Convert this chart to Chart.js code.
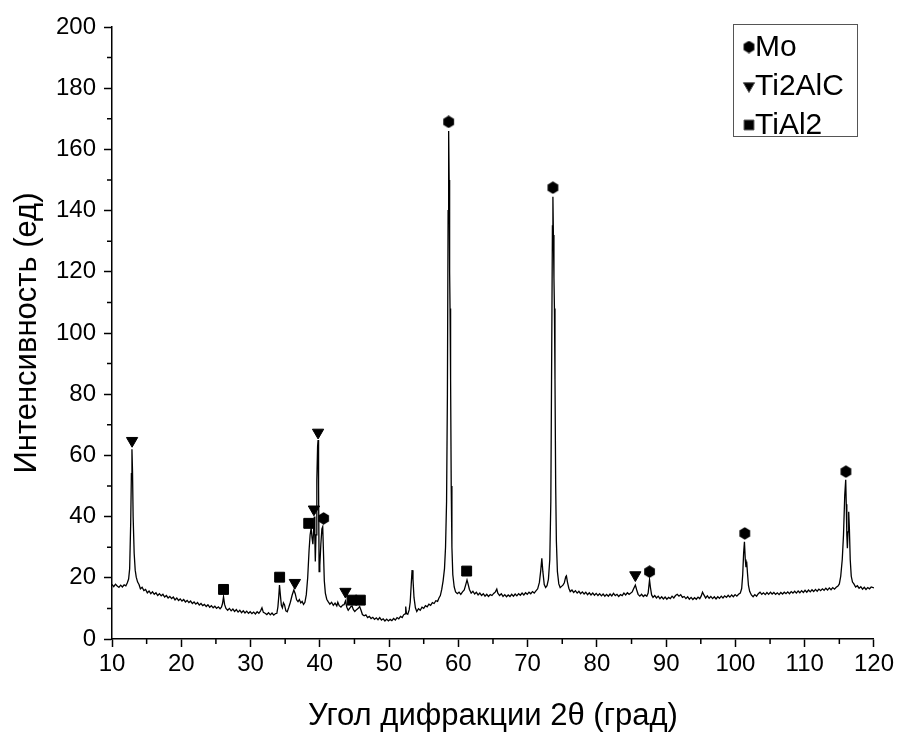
<!DOCTYPE html>
<html><head><meta charset="utf-8">
<script src="https://cdn.jsdelivr.net/npm/chart.js@4/dist/chart.umd.min.js"></script>
<style>html,body{margin:0;padding:0;background:#fff}canvas{display:block}</style>
</head><body><canvas id="c" width="897" height="736"></canvas>
<script>
// ---- data ----
const twoTheta = [
10.0,10.25,10.5,10.75,11.0,11.25,11.5,11.75,12.0,12.2,
12.4,12.55,12.7,12.8,12.88,12.96,13.05,13.2,13.35,13.5,
13.7,13.9,14.1,14.35,14.6,14.85,15.1,15.35,15.6,15.85,
16.1,16.35,16.6,16.85,17.1,17.35,17.6,17.85,18.1,18.35,
18.6,18.85,19.1,19.35,19.6,19.85,20.1,20.35,20.6,20.85,
21.1,21.35,21.6,21.85,22.1,22.35,22.6,22.85,23.1,23.35,
23.6,23.85,24.1,24.35,24.6,24.85,25.1,25.35,25.6,25.8,
25.95,26.1,26.25,26.45,26.7,26.95,27.2,27.45,27.7,27.95,
28.2,28.45,28.7,28.95,29.2,29.45,29.7,29.95,30.2,30.45,
30.7,30.95,31.2,31.45,31.65,31.85,32.1,32.35,32.6,32.85,
33.1,33.35,33.6,33.8,33.95,34.08,34.18,34.3,34.45,34.6,
34.75,34.9,35.1,35.3,35.5,35.75,36.0,36.25,36.45,36.65,
36.85,37.05,37.25,37.45,37.65,37.85,38.05,38.25,38.45,38.6,
38.75,38.88,39.0,39.12,39.2,39.28,39.35,39.45,39.57,39.68,
39.75,39.82,39.9,40.0,40.15,40.3,40.42,40.52,40.65,40.8,
41.0,41.2,41.45,41.7,41.95,42.2,42.45,42.6,42.8,43.05,
43.3,43.5,43.7,43.9,44.1,44.3,44.5,44.65,44.85,45.05,
45.3,45.55,45.75,45.95,46.15,46.4,46.65,46.9,47.15,47.4,
47.65,47.9,48.15,48.4,48.65,48.9,49.15,49.4,49.65,49.9,
50.15,50.4,50.65,50.9,51.15,51.4,51.65,51.9,52.1,52.3,
52.4,52.5,52.7,52.9,53.05,53.2,53.32,53.45,53.6,53.8,
54.0,54.25,54.5,54.75,55.0,55.25,55.5,55.75,56.0,56.25,
56.5,56.75,57.0,57.2,57.4,57.6,57.8,58.0,58.15,58.3,
58.42,58.52,58.6,58.67,58.74,58.8,58.88,58.97,59.07,59.2,
59.4,59.6,59.85,60.1,60.35,60.6,60.85,61.05,61.25,61.4,
61.6,61.85,62.1,62.35,62.6,62.85,63.1,63.35,63.6,63.85,
64.1,64.35,64.6,64.85,65.1,65.35,65.55,65.7,65.95,66.2,
66.45,66.7,66.95,67.2,67.45,67.7,67.95,68.2,68.45,68.7,
68.95,69.2,69.45,69.7,69.95,70.2,70.45,70.7,70.95,71.2,
71.45,71.7,71.9,72.05,72.2,72.4,72.6,72.8,73.0,73.2,
73.35,73.48,73.58,73.65,73.72,73.8,73.87,73.95,74.05,74.15,
74.3,74.5,74.7,74.9,75.1,75.3,75.5,75.6,75.75,75.95,
76.15,76.4,76.65,76.9,77.15,77.4,77.65,77.9,78.15,78.4,
78.65,78.9,79.15,79.4,79.65,79.9,80.15,80.4,80.65,80.9,
81.15,81.4,81.65,81.9,82.15,82.4,82.65,82.9,83.15,83.4,
83.65,83.9,84.15,84.4,84.65,84.9,85.1,85.3,85.55,85.75,
85.95,86.2,86.45,86.7,86.95,87.2,87.4,87.6,87.72,87.9,
88.1,88.35,88.6,88.85,89.1,89.35,89.6,89.85,90.1,90.35,
90.6,90.85,91.1,91.35,91.6,91.85,92.1,92.35,92.6,92.85,
93.1,93.35,93.6,93.85,94.1,94.35,94.6,94.85,95.05,95.25,
95.45,95.7,95.95,96.2,96.45,96.7,96.95,97.2,97.45,97.7,
97.95,98.2,98.45,98.7,98.95,99.2,99.45,99.7,99.95,100.2,
100.45,100.7,100.9,101.05,101.18,101.3,101.42,101.52,101.62,101.74,
101.88,102.05,102.3,102.55,102.8,103.05,103.3,103.55,103.8,104.05,
104.3,104.55,104.8,105.05,105.3,105.55,105.8,106.05,106.3,106.55,
106.8,107.05,107.3,107.55,107.8,108.05,108.3,108.55,108.8,109.05,
109.3,109.55,109.8,110.05,110.3,110.55,110.8,111.05,111.3,111.55,
111.8,112.05,112.3,112.55,112.8,113.05,113.3,113.55,113.8,114.05,
114.3,114.55,114.8,115.0,115.2,115.42,115.6,115.78,115.92,116.0,
116.08,116.16,116.25,116.35,116.45,116.57,116.72,116.9,117.1,117.35,
117.6,117.85,118.1,118.35,118.6,118.85,119.1,119.35,119.6,120.0
];
const intensity = [
17.8,17.1,17.9,17.3,16.9,17.6,17.0,17.7,17.4,18.3,
19.6,23,38,54,62,55,40,28,22.5,20.2,
18.6,17.8,16.4,16.9,15.8,16.2,15.1,15.7,14.8,15.4,
14.6,15.1,14.2,14.8,14.1,14.6,13.7,14.2,13.4,13.9,
13.2,13.7,12.8,13.4,12.6,13.1,12.4,12.9,12.1,12.6,
11.9,12.4,11.6,12.1,11.4,11.9,11.1,11.6,10.9,11.3,
10.6,11.2,10.4,10.9,10.2,10.7,10.0,10.5,9.9,10.4,
11.5,13.8,11.3,10.0,9.4,10.0,9.2,9.8,9.0,9.6,
8.8,9.4,8.6,9.2,8.5,9.1,8.4,8.9,8.3,8.8,
8.2,8.9,8.4,9.2,10.2,8.7,8.4,8.0,8.6,7.9,
8.5,7.8,8.3,8.4,10.5,14,17.6,14.5,11.0,10.2,
11.8,11.2,9.2,8.9,10.2,12.0,14.3,16.0,14.8,12.8,
12.2,12.9,11.8,12.3,11.3,12.0,14.5,20,29,34,
36.3,33,31,36,40,33,25.3,34,52,63,
65,50,22,24,31,36,36.7,29,19,15.0,
13.0,12.2,11.4,12.0,11.0,11.7,10.8,12.0,10.9,10.4,
11.1,11.2,12.4,10.4,9.4,10.0,10.6,10.8,9.6,9.0,
9.6,10.0,10.6,9.4,8.0,7.6,7.9,7.0,7.4,6.7,
7.1,6.4,6.9,6.3,7.0,6.2,6.6,5.9,6.5,5.9,
6.4,6.0,6.7,6.2,7.0,6.6,7.4,7.0,7.9,8.2,
10.6,8.4,8.1,9.5,12,18,22.5,19.5,13.5,10.2,
9.0,9.9,9.4,10.4,10.0,10.9,10.5,11.4,11.0,11.9,
11.6,12.5,12.3,13.4,14.2,16.2,19,23,30,45,
80,140,166,150,120,108,85,50,30,21,
17.0,15.4,14.8,15.3,14.6,15.4,16.0,17.6,19.3,18.0,
16.2,15.0,15.6,14.7,15.3,14.4,15.0,14.2,14.8,14.0,
14.6,13.9,14.5,14.2,14.9,15.4,16.3,15.0,14.2,14.8,
13.9,14.5,13.8,14.4,13.9,14.6,14.0,14.7,14.1,14.8,
14.3,15.0,14.4,15.1,14.6,15.3,14.8,15.5,15.0,15.7,
16.4,18.5,22.5,26.4,22,17.8,16.8,17.4,19.5,26,
45,95,135,144.5,132,118,108,85,50,32,
22,18.0,16.8,17.2,17.6,18.4,20.3,20.6,18.6,16.6,
15.5,16.0,15.2,15.8,15.0,15.6,14.8,15.4,14.7,15.3,
14.5,15.1,14.4,15.0,14.3,14.9,14.2,14.8,14.1,14.7,
14.0,14.6,14.0,14.7,14.1,14.9,14.2,14.6,13.9,14.5,
14.2,15.0,14.4,15.1,14.6,15.0,15.4,16.4,17.6,16.0,
14.6,14.0,14.6,13.9,14.4,14.0,15.0,19.3,17.0,14.4,
13.6,14.2,13.4,14.0,13.2,13.8,13.1,13.7,13.0,13.6,
13.2,14.0,13.4,14.2,14.6,14.0,14.5,13.6,13.9,13.2,
13.8,13.0,13.6,12.9,13.5,13.0,13.7,13.2,14.0,15.3,
14.4,13.4,14.1,13.3,13.9,13.2,13.8,13.1,13.8,13.3,
14.0,13.4,14.1,13.6,14.3,13.7,14.4,13.8,14.5,14.0,
14.6,15.0,16.5,21,28,31.8,26,23.5,25.3,21.5,
17.5,15.6,14.4,13.8,14.5,14.0,14.8,15.3,14.6,15.1,
14.5,15.2,14.6,15.3,14.7,15.2,14.6,15.1,14.5,15.2,
14.7,15.3,14.8,15.4,14.8,15.5,15.0,15.6,15.0,15.7,
15.1,15.8,15.2,15.9,15.3,16.0,15.4,16.1,15.5,16.2,
15.6,16.3,15.8,16.4,15.9,16.6,16.0,16.7,16.1,16.8,
16.3,16.9,17.3,18.0,20.5,26,34,47,52,44,
34,29.7,35,41.6,36,26,20.5,18.6,18.0,17.0,
17.4,16.6,17.1,16.3,16.9,16.2,16.8,16.4,17.0,16.7
];
// phase marker positions (angle, marker height)
const moAngles     = [40.55, 58.6, 73.65, 87.6, 101.35, 115.95];
const moMarks      = [39.4, 169, 147.5, 22.0, 34.5, 54.7];
const ti2alcAngles = [12.9, 36.4, 39.15, 39.75, 43.7, 85.55];
const ti2alcMarks  = [64.8, 18.4, 42.4, 67.5, 15.5, 20.9];
const tial2Angles  = [26.1, 34.2, 38.4, 44.65, 45.85, 61.2];
const tial2Marks   = [16.2, 20.2, 37.8, 12.7, 12.7, 22.2];
const seriesNames  = ['Mo', 'Ti2AlC', 'TiAl2'];
const xMinorTicks  = [15,25,35,45,55,65,75,85,95,105,115];
const yMinorTicks  = [10,30,50,70,90,110,130,150,170,190];
const xTitle = 'Угол дифракции 2θ (град)';
const yTitle = 'Интенсивность (ед)';

// ---- hexagon marker ----
function hexagon(size){
  const cv = document.createElement('canvas');
  cv.width = size; cv.height = size;
  const g = cv.getContext('2d');
  const r = size/2;
  g.fillStyle = '#000';
  g.beginPath();
  for (let i=0;i<6;i++){
    const a = Math.PI/6 + i*Math.PI/3;
    const px = r + Math.cos(a)*(r-0.3), py = r + Math.sin(a)*(r-0.3);
    i ? g.lineTo(px,py) : g.moveTo(px,py);
  }
  g.closePath(); g.fill();
  return cv;
}
const hex = hexagon(13);

const FONT = "'Liberation Sans', Arial, sans-serif";
const toXY = (xs, ys) => xs.map((x,i)=>({x, y: ys[i]}));

const minorTicks = {
  id:'minorTicks',
  afterDraw(chart){
    const {ctx, chartArea:a, scales:{x,y}} = chart;
    ctx.save();
    ctx.strokeStyle = '#000'; ctx.lineWidth = 1.5;
    ctx.beginPath();
    xMinorTicks.forEach(v=>{ const p = x.getPixelForValue(v); ctx.moveTo(p, a.bottom); ctx.lineTo(p, a.bottom+5); });
    yMinorTicks.forEach(v=>{ const p = y.getPixelForValue(v); ctx.moveTo(a.left, p); ctx.lineTo(a.left-5, p); });
    ctx.stroke();
    ctx.restore();
  }
};

const boxLegend = {
  id:'boxLegend',
  afterDraw(chart){
    const ctx = chart.ctx;
    const ds = chart.data.datasets.filter(d=>d.inLegend);
    ctx.save();
    ctx.strokeStyle = '#555'; ctx.lineWidth = 1;
    ctx.strokeRect(733.5, 24.5, 124, 112);
    ctx.font = '30px ' + FONT;
    ctx.fillStyle = '#000';
    ctx.textBaseline = 'middle';
    ds.forEach((d,i)=>{
      const yy = 47 + i*39;
      Chart.helpers.drawPoint(ctx, {pointStyle: d.pointStyle, rotation: d.pointRotation||0, radius: d.pointRadius, borderWidth: 1}, 749, yy);
      ctx.fillStyle = '#000';
      ctx.fillText(d.label, 755, yy+1);
    });
    ctx.restore();
  }
};

new Chart(document.getElementById('c'), {
  type: 'scatter',
  data: {
    datasets: [
      {label: seriesNames[0], inLegend:true, data: toXY(moAngles, moMarks), pointStyle: hex, pointRadius: 6.5,
       backgroundColor:'#000', borderColor:'#000', pointBorderWidth:0, order:0},
      {label: seriesNames[1], inLegend:true, data: toXY(ti2alcAngles, ti2alcMarks), pointStyle: 'triangle', pointRotation: 180, pointRadius: 6.5,
       backgroundColor:'#000', borderColor:'#000', pointBorderWidth:1, order:0},
      {label: seriesNames[2], inLegend:true, data: toXY(tial2Angles, tial2Marks), pointStyle: 'rect', pointRadius: 7,
       backgroundColor:'#000', borderColor:'#000', pointBorderWidth:1, order:0},
      {label: 'scan', data: toXY(twoTheta, intensity), showLine:true, pointRadius:0, borderColor:'#000', borderWidth:1.3,
       backgroundColor:'#000', order:1}
    ]
  },
  options: {
    responsive:false, animation:false, devicePixelRatio:1, events:[],
    layout:{padding:{top:27, right:23, bottom:0, left:0}},
    plugins:{legend:{display:false}, tooltip:{enabled:false}},
    scales:{
      x:{type:'linear', min:10, max:120,
        ticks:{stepSize:10, color:'#000', font:{family:FONT, size:24}, padding:3, maxRotation:0},
        grid:{drawOnChartArea:false, drawTicks:true, tickLength:8, tickColor:'#000', tickWidth:1.5},
        border:{display:true, color:'#000', width:1.5},
        title:{display:true, text:xTitle, color:'#000', font:{family:FONT, size:31}, padding:{top:0, bottom:1}},
        afterFit(s){ s.height = 97; }
      },
      y:{type:'linear', min:0, max:200,
        ticks:{stepSize:20, color:'#000', font:{family:FONT, size:24}, padding:8},
        grid:{drawOnChartArea:false, drawTicks:true, tickLength:8, tickColor:'#000', tickWidth:1.5},
        border:{display:true, color:'#000', width:1.5},
        title:{display:true, text:yTitle, color:'#000', font:{family:FONT, size:31}, padding:{top:9, bottom:0}},
        afterFit(s){ s.width = 112; }
      }
    }
  },
  plugins:[minorTicks, boxLegend]
});
</script>
</body></html>
